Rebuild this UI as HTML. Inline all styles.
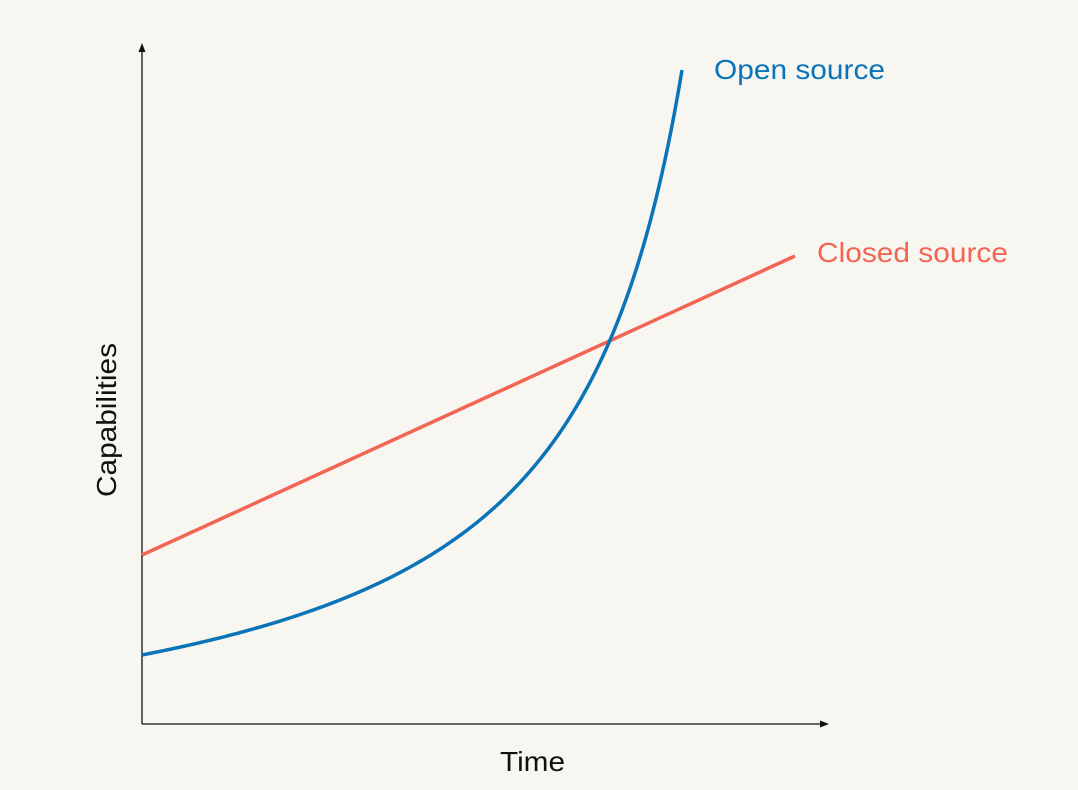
<!DOCTYPE html>
<html><head><meta charset="utf-8">
<style>
html,body{margin:0;padding:0;background:#f7f6f1;}
svg{display:block;}
text{font-family:"Liberation Sans",sans-serif;}
</style></head>
<body>
<svg id="s" width="1078" height="790" viewBox="0 0 1078 790" xmlns="http://www.w3.org/2000/svg">
<rect width="1078" height="790" fill="#f7f6f1"/>
<line x1="142" y1="50" x2="142" y2="724" stroke="#111" stroke-width="1.3"/>
<polygon points="142,43 138.5,52 145.5,52" fill="#111"/>
<line x1="142" y1="724" x2="822" y2="724" stroke="#111" stroke-width="1.3"/>
<polygon points="829,724 820,720.5 820,727.5" fill="#111"/>
<line x1="142" y1="555" x2="795" y2="256" stroke="#f26552" stroke-width="3.5"/>
<path id="blue" d="" fill="none" stroke="#0a74b8" stroke-width="3.5"/>
<text x="714" y="79" font-size="28" fill="#0a74b8" textLength="171" lengthAdjust="spacingAndGlyphs">Open source</text>
<text x="817" y="262" font-size="28" fill="#f26552" textLength="191" lengthAdjust="spacingAndGlyphs">Closed source</text>
<text x="500" y="771" font-size="28" fill="#111" textLength="65" lengthAdjust="spacingAndGlyphs">Time</text>
<text x="0" y="0" font-size="28" fill="#111" textLength="154" lengthAdjust="spacingAndGlyphs" transform="translate(116,497) rotate(-90)">Capabilities</text>
</svg>
<script>
var d="",A=84112,B=-58.8,c=800;
for(var x=142;x<=682;x+=2){var y=724-(A/(c-x)+B);d+=(x==142?"M":"L")+x+","+y.toFixed(2)+" ";}
document.getElementById("blue").setAttribute("d",d);
</script>
</body></html>
